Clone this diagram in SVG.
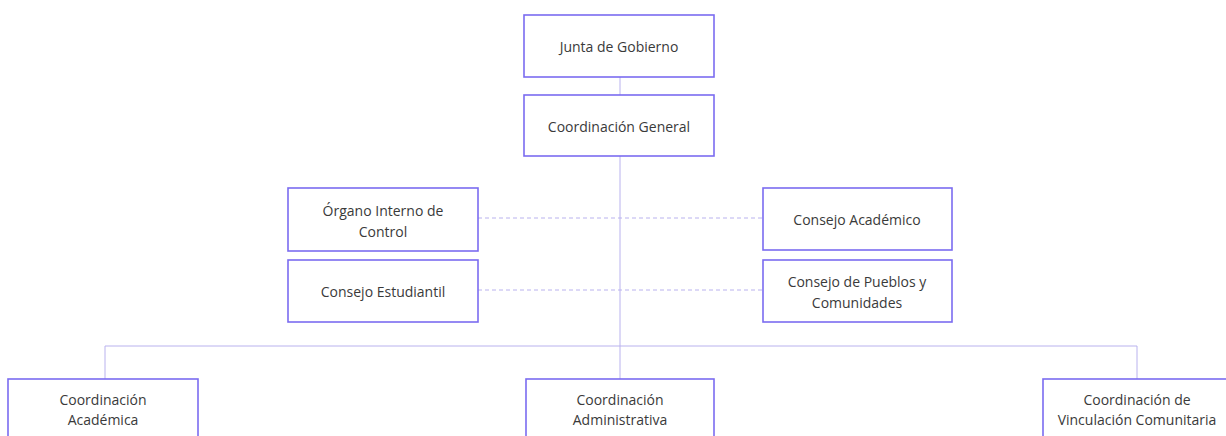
<svg xmlns="http://www.w3.org/2000/svg" width="1226" height="436" viewBox="0 0 1226 436">
<style>
.box{fill:#fff;stroke:#7b6cf0;stroke-width:1.6}
.t{font-family:"Open Sans","Liberation Sans",sans-serif;font-size:14px;fill:#3a3a3a;text-anchor:middle;dominant-baseline:central}
.ln{stroke:#b9b2ee;stroke-width:1;fill:none}
.dash{stroke:#b9b2ee;stroke-width:1;fill:none;stroke-dasharray:4 3}
</style>
<rect width="1226" height="436" fill="#fff"/>
<g id="connectors">
<line class="ln" x1="620" y1="77" x2="620" y2="95"/>
<line class="ln" x1="620" y1="156" x2="620" y2="379"/>
<line class="dash" x1="478" y1="218" x2="763" y2="218"/>
<line class="dash" x1="478" y1="290" x2="763" y2="290"/>
<polyline class="ln" points="105,379 105,346 1137,346 1137,379"/>
</g>
<g id="junta"><rect class="box" x="524" y="15" width="190" height="62"/><text class="t" x="619" y="46">Junta de Gobierno</text></g>
<g id="coord-general"><rect class="box" x="524" y="95" width="190" height="61"/><text class="t" x="619" y="126">Coordinación General</text></g>
<g id="organo"><rect class="box" x="288" y="188" width="190" height="63"/><text class="t" x="383" y="210">Órgano Interno de</text><text class="t" x="383" y="231">Control</text></g>
<g id="estudiantil"><rect class="box" x="288" y="260" width="190" height="62"/><text class="t" x="383" y="291">Consejo Estudiantil</text></g>
<g id="academico"><rect class="box" x="763" y="188" width="189" height="62"/><text class="t" x="857" y="219">Consejo Académico</text></g>
<g id="pueblos"><rect class="box" x="763" y="260" width="189" height="62"/><text class="t" x="857" y="281">Consejo de Pueblos y</text><text class="t" x="857" y="302">Comunidades</text></g>
<g id="coord-academica"><rect class="box" x="8" y="379" width="190" height="70"/><text class="t" x="103" y="399">Coordinación</text><text class="t" x="103" y="419">Académica</text></g>
<g id="coord-admin"><rect class="box" x="526" y="379" width="188" height="70"/><text class="t" x="620" y="399">Coordinación</text><text class="t" x="620" y="419">Administrativa</text></g>
<g id="coord-vinculacion"><rect class="box" x="1043" y="379" width="190" height="70"/><text class="t" x="1137" y="399">Coordinación de</text><text class="t" x="1137" y="419">Vinculación Comunitaria</text></g>
</svg>
